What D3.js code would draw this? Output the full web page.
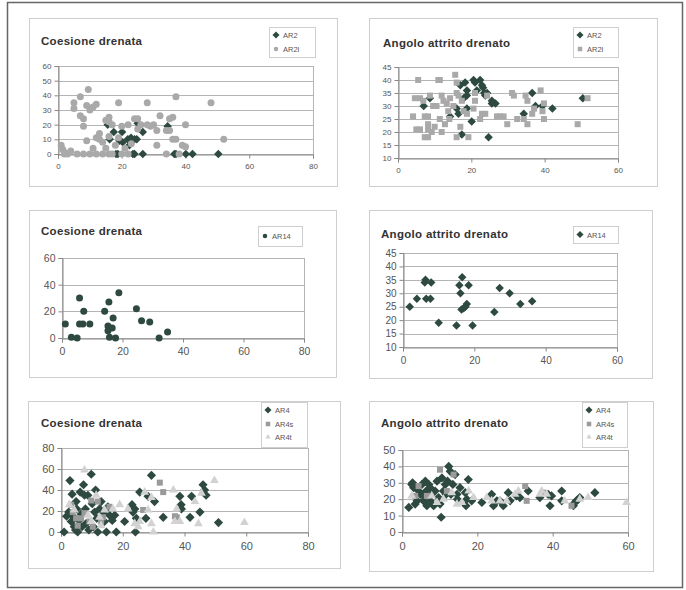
<!DOCTYPE html>
<html>
<head>
<meta charset="utf-8">
<script src="https://cdn.jsdelivr.net/npm/d3@7/dist/d3.min.js"></script>
<style>
  body { margin: 0; background: #fff; }
  svg { display: block; font-family: "Liberation Sans", Arial, sans-serif; }
</style>
</head>
<body>
<div id="chart"></div>
<script>
// ---- data: [x, y] pairs ----
const coesioneAR2 = [[15.6,20],[16.2,10],[17.5,15],[18.8,0],[18.2,0],[20.1,15],[19.3,9],[20.3,8],[21.9,10],[22.9,11],[24,10],[24.7,10],[22.4,6],[25,21],[26.6,15],[23.5,0],[24,0],[26.6,0],[34.4,19],[36.5,0],[37,0],[40.1,0],[42.2,0],[50.3,0]];
const coesioneAR2l = [[1,6],[1.5,3],[2,1],[2,0],[3,0],[4,2],[5,35],[5,31],[6,0],[7,39],[7,26],[8,24],[8,19],[8,0],[9,33],[9.5,44],[10,30],[9,9],[10,0],[11,32],[12,34],[11,4],[12,11],[12,0],[13,14],[13,10],[14,8],[14,0],[15,23],[16,25],[16,22],[16,12],[15,4],[16,0],[17,20],[17,0],[18,6],[19,35],[19,11],[20,19],[20,0],[21,4],[22,20],[22,0],[23,7],[24,24],[25,17],[25,24],[26,20],[28,35],[28,20],[29,19],[30,20],[31,6],[31,16],[32,26],[34,16],[35,16],[35,24],[34,0],[36,10],[36,25],[37,39],[37,10],[38,0],[39,6],[40,5],[40,20],[48,35],[52,10]];

const angoloAR2 = [[7,30],[8.7,33],[14.2,26],[16,29],[16.5,27],[17,38],[18.3,39],[18.8,36],[18.8,34],[18.8,29],[17.9,33],[17.4,19],[20.1,24],[20.6,40],[21,39],[21.5,36],[22.4,40],[22.9,38],[23.2,37],[23.5,35],[23.8,34],[24.3,35],[24.7,18],[25.6,31],[25.6,32],[26.6,31],[34.3,27],[36.6,35],[37.5,30],[39.4,30],[42.1,29],[50.4,33]];
const angoloAR2l = [[4.1,26],[4.6,33],[5,21],[5.5,40],[6,33],[6,21],[6.9,32],[7.3,26],[7.3,18],[8.2,18],[8.2,26],[8.2,23],[8.2,21],[8.7,34],[9.2,20],[9.6,30],[10,22],[10.5,30],[11,40],[11.4,40],[11.4,25],[11.9,34],[11.9,20],[12.4,32],[12.8,23],[13.3,31],[13.7,28],[14,25],[14.2,33],[15.1,30],[15.6,42],[16,39],[16,35],[16.5,34],[16,18],[17,22],[17.4,32],[17.9,28],[18.8,27],[19.2,18],[20.6,29],[21,35],[21,32],[22.4,25],[22.9,27],[23.8,27],[24.3,34],[27,26],[27.9,26],[28.8,26],[29.8,23],[31.1,35],[31.6,34],[32.5,25],[34.3,25],[34.8,34],[35.3,32],[35.3,23],[36.6,27],[37.1,29],[38.9,36],[39.4,28],[39.8,31],[39.8,25],[49,23],[51.7,33]];

const coesioneAR14 = [[1.1,10.5],[3.1,0.5],[5,0],[5.8,30],[5.8,10.5],[6.9,10.5],[7.2,20],[9.2,10.5],[14.1,20],[15.2,9],[15.5,27],[15.2,5.5],[15.7,0.5],[16.6,7.5],[16.9,15],[17.7,0],[18.8,34],[24.6,22],[26.3,13],[29,12],[32.1,0],[34.9,4.5]];
const angoloAR14 = [[1.9,25],[3.9,28],[6.3,35],[6.1,34],[6.5,28],[7.7,28],[7.9,34],[10,19],[15,18],[15.8,33],[16.1,30],[16.6,36],[16.4,24],[17,24.4],[17.5,25],[17.9,26],[18.4,33],[19.5,18],[25.6,23],[27.1,32],[29.9,30],[32.9,26],[36.2,27]];

const coesioneAR4 = [[1,0],[1.8,15],[2.5,19],[2.9,49],[3.3,10],[3.6,36],[3.8,15],[4.3,5],[4.7,2],[4.9,29],[5.1,22],[5.4,0],[5.8,11],[6.2,38],[6.5,17],[6.8,5],[7.3,45],[7.6,35],[7.9,22],[8.1,8],[8.7,35],[9,2],[9.8,55],[10.1,27],[10.5,5],[10.9,19],[11.2,40],[11.6,13],[11.9,0],[12.5,22],[13,29],[13.6,18],[14.1,10],[14.7,0],[15.2,24],[15.7,16],[16.6,11],[17.4,16],[17.9,0],[20.6,10],[23,26],[23.3,19],[23.9,22],[24.1,0],[24.4,13],[25.5,38],[27.5,13],[28.2,34],[29.3,54],[30.3,29],[33.1,14],[38.5,34],[38.9,26],[39,22],[41.8,14],[42.3,34],[45,19],[46,45],[46.5,40],[47,35],[51,9]];
const coesioneAR4s = [[3.3,26],[3.8,19],[4.9,13],[5.4,6],[6.5,13],[7.6,18],[9.2,10],[9.8,30],[10.3,5],[11.9,29],[13,10],[13.6,14],[15.7,24],[26.6,21],[32,47],[33.1,38],[36.9,15],[37.5,14]];
const coesioneAR4t = [[2.7,26],[4.3,21],[7.6,59],[8.7,16],[9.8,10],[11.4,35],[12.5,14],[13,6],[14.1,21],[16.8,22],[19,26],[21.7,22],[23.9,8],[25,5],[25.5,10],[27.1,38],[28.2,21],[29.3,8],[29.9,0],[29.3,33],[36.4,40],[36.9,10],[37.5,22],[38.5,10],[43.4,29],[44.5,8],[45.5,37],[49.7,49],[59.4,9]];

const angoloAR4 = [[1.8,15],[2.6,29],[2.8,30],[3.1,27],[3.5,17],[4,19],[4.4,25],[4.9,23],[5.3,29],[5.6,23],[5.7,19],[6.2,31],[6.4,25],[6.6,16],[7.1,29],[7.5,19],[7.5,27],[7.9,23],[8.4,16],[8.8,25],[9.3,31],[9.7,21],[10.1,17],[10.4,9],[10.6,33],[11,25],[11.5,29],[11.7,23],[12.1,31],[12.4,40],[12.8,37],[13,23],[13.5,29],[14.1,35],[14.6,23],[14.7,20],[15.4,27],[16.8,24],[17.2,20],[17.6,32],[17,16],[18.5,19],[21.2,18],[23.8,23],[24.3,16],[25.2,19],[26,19],[26.9,16],[28.2,24],[28.7,19],[30.4,22],[31.3,21],[33.5,25],[36.6,21],[38.8,23],[39.3,16],[39.7,22],[42.4,25],[42.4,19],[45.5,16],[45.9,18],[46.3,19],[46.8,20],[47.2,21],[51.2,24]];
const angoloAR4s = [[3.5,22],[4.4,28],[6.6,22],[10.1,38],[11.9,25],[13.7,35],[32.7,28],[33.1,19],[37.5,24],[45,16]];
const angoloAR4t = [[2.6,22],[7.9,22],[9.3,18],[11,20],[13.2,24],[14.6,17],[15.9,18],[17.7,25],[19,21],[22.5,21],[23.8,19],[26,19],[27.8,19],[30,23],[30.9,25],[36.6,23],[37.1,25],[38.4,23],[43.2,19],[47.2,20],[49.4,21],[59.6,18]];

// tick values
const xTicks80 = [0, 20, 40, 60, 80];
const xTicks60 = [0, 20, 40, 60];
const yTicksC1 = [0, 10, 20, 30, 40, 50, 60];
const yTicksC2 = [0, 20, 40, 60];
const yTicksC3 = [0, 20, 40, 60, 80];
const yTicksA = [10, 15, 20, 25, 30, 35, 40, 45];
const yTicksA3 = [0, 10, 20, 30, 40, 50];

const dark = "#2e4a40";

const svg = d3.select("#chart").append("svg")
  .attr("width", 686)
  .attr("height", 590);

// outer page frame
svg.append("rect")
  .attr("x", 7.5).attr("y", 2.5)
  .attr("width", 675).attr("height", 585)
  .attr("fill", "none")
  .attr("stroke", "#666")
  .attr("stroke-width", 1.5);

function marker(g, shape, size, fill, x, y) {
  if (shape === "diamond") {
    g.append("path")
      .attr("d", d3.symbol(d3.symbolSquare, size * size)())
      .attr("transform", `translate(${x},${y}) rotate(45)`)
      .attr("fill", fill);
  } else if (shape === "circle") {
    g.append("circle").attr("cx", x).attr("cy", y).attr("r", size / 2).attr("fill", fill);
  } else if (shape === "square") {
    g.append("rect").attr("x", x - size / 2).attr("y", y - size / 2)
      .attr("width", size).attr("height", size).attr("fill", fill);
  } else {
    g.append("path")
      .attr("d", d3.symbol(d3.symbolTriangle, size * size * 0.6)())
      .attr("transform", `translate(${x},${y})`)
      .attr("fill", fill);
  }
}

function panel(p) {
  const g = svg.append("g");

  g.append("rect")
    .attr("x", p.box[0] + 0.5).attr("y", p.box[1] + 0.5)
    .attr("width", p.box[2]).attr("height", p.box[3])
    .attr("fill", "#fff")
    .attr("stroke", "#cfcfcf");

  const x = d3.scaleLinear().domain(p.xDomain).range([p.plot[0], p.plot[1]]);
  const y = d3.scaleLinear().domain(p.yDomain).range([p.plot[3], p.plot[2]]);

  // grid lines
  g.append("g").selectAll("line")
    .data(p.yTicks)
    .join("line")
    .attr("x1", p.plot[0]).attr("x2", p.plot[1])
    .attr("y1", d => Math.round(y(d)) + 0.5).attr("y2", d => Math.round(y(d)) + 0.5)
    .attr("stroke", "#b5b5b5");

  // plot border
  g.append("rect")
    .attr("x", p.plot[0] + 0.5).attr("y", Math.round(y(p.yDomain[1])) + 0.5)
    .attr("width", p.plot[1] - p.plot[0])
    .attr("height", Math.round(y(p.yDomain[0])) - Math.round(y(p.yDomain[1])))
    .attr("fill", "none")
    .attr("stroke", "#b5b5b5");

  const yAxis = d3.axisLeft(y).tickValues(p.yTicks).tickSize(4).tickPadding(3);
  const xAxis = d3.axisBottom(x).tickValues(p.xTicks).tickSize(4).tickPadding(p.xPad);

  const ya = g.append("g")
    .attr("transform", `translate(${p.plot[0] + 0.5},0)`)
    .call(yAxis);
  const xa = g.append("g")
    .attr("transform", `translate(0,${Math.round(y(p.yDomain[0])) + 0.5})`)
    .call(xAxis);
  [ya, xa].forEach(a => {
    a.select(".domain").attr("stroke", "#888");
    a.selectAll(".tick line").attr("stroke", "#888");
    a.selectAll("text")
      .attr("fill", "#555")
      .style("font-size", p.tickFont + "px")
      .style("font-family", "'Liberation Sans', Arial, sans-serif");
  });

  // title
  g.append("text")
    .attr("x", p.title[1]).attr("y", p.title[2])
    .attr("fill", "#333")
    .style("font-size", "11.5px")
    .style("font-weight", "bold")
    .style("letter-spacing", "0.3px")
    .text(p.title[0]);

  // series
  const marks = g.append("g");
  p.series.forEach(s => {
    s.data.forEach(d => marker(marks, s.shape, s.size, s.color, x(d[0]), y(d[1])));
  });

  // legend
  const lg = g.append("g");
  lg.append("rect")
    .attr("x", p.legend[0] + 0.5).attr("y", p.legend[1] + 0.5)
    .attr("width", p.legend[2]).attr("height", p.legend[3])
    .attr("fill", "#fff")
    .attr("stroke", "#cfcfcf");
  p.series.forEach((s, i) => {
    const ly = p.legendRows[i];
    marker(lg, s.shape, s.shape === "diamond" ? 5 : 4.5, s.color, p.legend[0] + 7, ly);
    lg.append("text")
      .attr("x", p.legend[0] + 14).attr("y", ly + 3)
      .attr("fill", "#555")
      .style("font-size", p.legendFont + "px")
      .text(s.name);
  });
}

panel({
  box: [29, 18, 308, 168], plot: [58, 313, 66, 154],
  xDomain: [0, 80], yDomain: [0, 60], xTicks: xTicks80, yTicks: yTicksC1,
  tickFont: 8, xPad: 5,
  title: ["Coesione drenata", 41, 45],
  legend: [269, 27, 46, 30], legendRows: [35, 49], legendFont: 7.5,
  series: [
    { name: "AR2", shape: "diamond", size: 6, color: dark, data: coesioneAR2 },
    { name: "AR2l", shape: "circle", size: 7, color: "#a9a9a9", data: coesioneAR2l }
  ]
});

panel({
  box: [369, 18, 288, 168], plot: [398, 618, 67, 158],
  xDomain: [0, 60], yDomain: [10, 45], xTicks: xTicks60, yTicks: yTicksA,
  tickFont: 8, xPad: 5,
  title: ["Angolo attrito drenato", 383, 47],
  legend: [573, 27, 45, 30], legendRows: [35, 49], legendFont: 7.5,
  series: [
    { name: "AR2", shape: "diamond", size: 6, color: dark, data: angoloAR2 },
    { name: "AR2l", shape: "square", size: 6, color: "#a9a9a9", data: angoloAR2l }
  ]
});

panel({
  box: [29, 210, 307, 167], plot: [62, 304, 258, 338],
  xDomain: [0, 80], yDomain: [0, 60], xTicks: xTicks80, yTicks: yTicksC2,
  tickFont: 10.5, xPad: 5,
  title: ["Coesione drenata", 41, 235],
  legend: [258, 226, 44, 20], legendRows: [236], legendFont: 7.5,
  series: [
    { name: "AR14", shape: "circle", size: 7, color: dark, data: coesioneAR14 }
  ]
});

panel({
  box: [369, 210, 283, 168], plot: [403, 617, 253, 347],
  xDomain: [0, 60], yDomain: [10, 45], xTicks: xTicks60, yTicks: yTicksA,
  tickFont: 10, xPad: 5,
  title: ["Angolo attrito drenato", 381, 238],
  legend: [573, 226, 45, 17], legendRows: [234.5], legendFont: 7.5,
  series: [
    { name: "AR14", shape: "diamond", size: 6, color: dark, data: angoloAR14 }
  ]
});

panel({
  box: [28, 401, 312, 167], plot: [61, 308, 448, 532],
  xDomain: [0, 80], yDomain: [0, 80], xTicks: xTicks80, yTicks: yTicksC3,
  tickFont: 11, xPad: 6,
  title: ["Coesione drenata", 41, 427],
  legend: [261, 402, 46, 45], legendRows: [410, 424, 437], legendFont: 7.5,
  series: [
    { name: "AR4", shape: "diamond", size: 6.5, color: dark, data: coesioneAR4 },
    { name: "AR4s", shape: "square", size: 6, color: "#9a9a9a", data: coesioneAR4s },
    { name: "AR4t", shape: "triangle", size: 7.5, color: "#d2d2d2", data: coesioneAR4t }
  ]
});

panel({
  box: [369, 401, 284, 170], plot: [402, 628, 450, 532],
  xDomain: [0, 60], yDomain: [0, 50], xTicks: xTicks60, yTicks: yTicksA3,
  tickFont: 11, xPad: 6,
  title: ["Angolo attrito drenato", 381, 427],
  legend: [582, 402, 45, 45], legendRows: [410, 424, 437], legendFont: 7.5,
  series: [
    { name: "AR4", shape: "diamond", size: 6.5, color: dark, data: angoloAR4 },
    { name: "AR4s", shape: "square", size: 6, color: "#9a9a9a", data: angoloAR4s },
    { name: "AR4t", shape: "triangle", size: 7.5, color: "#d2d2d2", data: angoloAR4t }
  ]
});
</script>
</body>
</html>
